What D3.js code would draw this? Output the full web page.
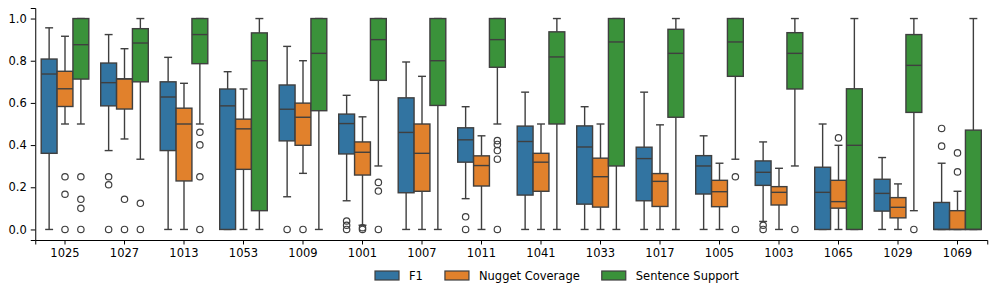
<!DOCTYPE html>
<html>
<head>
<meta charset="utf-8">
<script src="https://cdn.jsdelivr.net/npm/d3@7"></script>
<style>
  body { margin: 0; background: #fff; }
  text { font-family: "DejaVu Sans", sans-serif; }
</style>
</head>
<body>
<script>
// categories and series, in drawing order
var categories = ["1025", "1027", "1013", "1053", "1009", "1001", "1007", "1011",
                  "1041", "1033", "1017", "1005", "1003", "1065", "1029", "1069"];
var seriesNames = ["F1", "Nugget Coverage", "Sentence Support"];
var seriesColors = ["#3274a1", "#e1812c", "#3a923a"];
var yTicks = [0, 0.2, 0.4, 0.6, 0.8, 1.0];

// [whisker low, q1, median, q3, whisker high] per category
var f1Box = [
  [0, 0.361, 0.737, 0.808, 0.956], [0.374, 0.586, 0.696, 0.789, 0.924],
  [0, 0.374, 0.628, 0.700, 0.816], [0, 0, 0.586, 0.666, 0.748],
  [0.155, 0.420, 0.570, 0.685, 0.868], [0.136, 0.358, 0.502, 0.547, 0.636],
  [0, 0.174, 0.460, 0.624, 0.794], [0.146, 0.319, 0.425, 0.482, 0.582],
  [0, 0.163, 0.417, 0.490, 0.651], [0, 0.120, 0.391, 0.491, 0.582],
  [0, 0.136, 0.336, 0.390, 0.651], [0, 0.168, 0.301, 0.350, 0.444],
  [0.038, 0.209, 0.271, 0.325, 0.415], [0, 0, 0.176, 0.295, 0.500],
  [0, 0.087, 0.171, 0.238, 0.341], [0, 0, 0, 0.128, 0.314]
];
var f1Out = [[], [0.25, 0.212, 0], [], [], [0], [0.04, 0.02, 0], [], [0.06, 0],
             [], [], [], [], [0.02, 0], [], [], [0.479, 0.395]];

var nuggetBox = [
  [0.5, 0.583, 0.667, 0.750, 0.916], [0.429, 0.571, 0.714, 0.714, 0.857],
  [0, 0.230, 0.500, 0.575, 0.693], [0, 0.285, 0.477, 0.523, 0.666],
  [0.266, 0.399, 0.532, 0.599, 0.800], [0.02, 0.258, 0.366, 0.415, 0.534],
  [0, 0.181, 0.361, 0.500, 0.726], [0, 0.206, 0.303, 0.349, 0.444],
  [0, 0.181, 0.319, 0.361, 0.500], [0, 0.106, 0.250, 0.338, 0.500],
  [0, 0.109, 0.228, 0.265, 0.496], [0, 0.108, 0.179, 0.233, 0.314],
  [0, 0.116, 0.176, 0.203, 0.290], [0, 0.101, 0.132, 0.233, 0.399],
  [0, 0.055, 0.105, 0.151, 0.216], [0, 0, 0, 0.089, 0.181]
];
var nuggetOut = [[0.25, 0.167, 0], [0.143, 0], [], [], [0], [0.008, 0], [], [],
                 [], [], [], [], [], [0.434], [], [0.363, 0.273]];

var supportBox = [
  [0.5, 0.713, 0.876, 1, 1], [0.333, 0.700, 0.884, 0.952, 1],
  [0.5, 0.786, 0.924, 1, 1], [0, 0.089, 0.800, 0.932, 1],
  [0, 0.563, 0.835, 1, 1], [0.301, 0.707, 0.900, 1, 1],
  [0, 0.588, 0.800, 1, 1], [0.5, 0.769, 0.900, 1, 1],
  [0, 0.500, 0.818, 0.937, 1], [0, 0.301, 0.889, 1, 1],
  [0, 0.532, 0.835, 0.949, 1], [0.333, 0.726, 0.889, 1, 1],
  [0.301, 0.666, 0.835, 0.933, 1], [0, 0, 0.399, 0.667, 1],
  [0.089, 0.555, 0.778, 0.924, 1], [0, 0, 0, 0.471, 1]
];
var supportOut = [[0.25, 0.143, 0.1, 0], [0.124, 0], [0.461, 0.401, 0.25, 0], [], [],
                  [0.223, 0.182, 0], [], [0.421, 0.403, 0.374, 0.333, 0],
                  [], [], [], [0.25, 0], [0], [], [0], []];

var boxes = [f1Box, nuggetBox, supportBox];
var outs = [f1Out, nuggetOut, supportOut];

var width = 996, height = 295;
var lineColor = "#3f3f3f";

var svg = d3.select("body").append("svg")
    .attr("width", width)
    .attr("height", height);

var x = d3.scaleBand()
    .domain(categories)
    .range([35.25, 987.25]);

var xSub = d3.scaleBand()
    .domain(seriesNames)
    .range([x.bandwidth() * 0.1, x.bandwidth() * 0.9]);

var y = d3.scaleLinear()
    .domain([-0.05, 1.05])
    .range([240, 8]);

// flatten into one record per box
var records = [];
seriesNames.forEach(function(s, si) {
  categories.forEach(function(c, ci) {
    var b = boxes[si][ci];
    records.push({cat: c, series: s, color: seriesColors[si],
                  lo: b[0], q1: b[1], med: b[2], q3: b[3], hi: b[4],
                  out: outs[si][ci]});
  });
});

function cx(d) { return x(d.cat) + xSub(d.series) + xSub.bandwidth() / 2; }
var bw = xSub.bandwidth();
var capW = bw * 0.5;

var g = svg.append("g");

// whiskers
var wg = g.append("g").attr("stroke", lineColor).attr("stroke-width", 1.4);
records.forEach(function(d) {
  var c = cx(d);
  wg.append("line").attr("x1", c).attr("x2", c).attr("y1", y(d.q1)).attr("y2", y(d.lo));
  wg.append("line").attr("x1", c).attr("x2", c).attr("y1", y(d.q3)).attr("y2", y(d.hi));
  wg.append("line").attr("x1", c - capW / 2).attr("x2", c + capW / 2).attr("y1", y(d.lo)).attr("y2", y(d.lo));
  wg.append("line").attr("x1", c - capW / 2).attr("x2", c + capW / 2).attr("y1", y(d.hi)).attr("y2", y(d.hi));
});

// boxes
g.append("g").selectAll("rect")
  .data(records)
  .enter().append("rect")
  .attr("x", function(d) { return cx(d) - bw / 2; })
  .attr("width", bw)
  .attr("y", function(d) { return y(d.q3); })
  .attr("height", function(d) { return y(d.q1) - y(d.q3); })
  .attr("fill", function(d) { return d.color; })
  .attr("stroke", lineColor)
  .attr("stroke-width", 1.4);

// medians
g.append("g").selectAll("line")
  .data(records)
  .enter().append("line")
  .attr("x1", function(d) { return cx(d) - bw / 2; })
  .attr("x2", function(d) { return cx(d) + bw / 2; })
  .attr("y1", function(d) { return y(d.med); })
  .attr("y2", function(d) { return y(d.med); })
  .attr("stroke", lineColor)
  .attr("stroke-width", 1.4);

// outliers
var og = g.append("g").attr("fill", "none").attr("stroke", lineColor).attr("stroke-width", 1.2);
records.forEach(function(d) {
  d.out.forEach(function(v) {
    og.append("circle").attr("cx", cx(d)).attr("cy", y(v)).attr("r", 3.2);
  });
});

// axes
var xAxis = svg.append("g")
  .attr("transform", "translate(0,240)")
  .call(d3.axisBottom(x).tickSizeOuter(0).tickSize(4.5).tickPadding(4));
xAxis.select(".domain").attr("stroke-width", 1);

var yAxis = svg.append("g")
  .attr("transform", "translate(35.25,0)")
  .call(d3.axisLeft(y).tickValues(yTicks).tickFormat(d3.format(".1f"))
        .tickSizeOuter(0).tickSize(4.5).tickPadding(4));

svg.selectAll(".tick text")
  .attr("font-family", "DejaVu Sans")
  .attr("font-size", "11.5px")
  .attr("fill", "#000");
svg.selectAll(".tick line").attr("stroke", "#000");

// legend
var legend = svg.append("g").attr("transform", "translate(375,271)");
var lx = 0;
seriesNames.forEach(function(s, i) {
  legend.append("rect")
    .attr("x", lx).attr("y", 0)
    .attr("width", 24).attr("height", 9)
    .attr("fill", seriesColors[i])
    .attr("stroke", lineColor)
    .attr("stroke-width", 1.2);
  var t = legend.append("text")
    .attr("x", lx + 34).attr("y", 4.5)
    .attr("dy", "0.35em")
    .attr("font-size", "11.5px")
    .text(s);
  lx += 34 + t.node().getComputedTextLength() + 22;
});
</script>
</body>
</html>
